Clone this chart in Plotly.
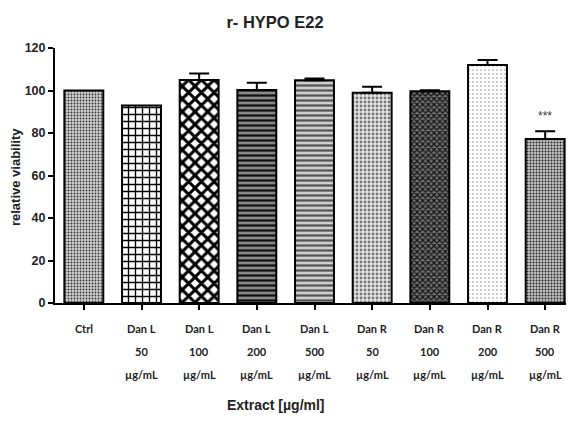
import plotly.graph_objects as go

categories = ["Ctrl", "Dan L 50", "Dan L 100", "Dan L 200", "Dan L 500",
              "Dan R 50", "Dan R 100", "Dan R 200", "Dan R 500"]
label_row1 = ["Ctrl", "Dan L", "Dan L", "Dan L", "Dan L", "Dan R", "Dan R", "Dan R", "Dan R"]
label_row2 = ["", "50", "100", "200", "500", "50", "100", "200", "500"]
label_row3 = ["", "µg/mL", "µg/mL", "µg/mL", "µg/mL", "µg/mL", "µg/mL", "µg/mL", "µg/mL"]
viability = [100, 93, 105, 100.2, 104.8, 99, 99.6, 112, 77.2]
sem = [0, 0, 3, 3.5, 0.8, 2.8, 0.5, 2.4, 3.6]
significance = ["", "", "", "", "", "", "", "", "***"]

pat_shape = [".", "+", "x", "-", "-", ".", "x", ".", "."]
pat_fg = ["#333333", "#000000", "#000000", "#111111", "#555555", "#777777", "#111111", "#bbbbbb", "#2a2a2a"]
pat_bg = ["#d0d0d0", "#ffffff", "#ffffff", "#8a8a8a", "#cfcfcf", "#e4e4e4", "#707070", "#ffffff", "#c0c0c0"]
pat_size = [3, 7, 9, 5, 5, 4, 4, 4, 3]
pat_sol = [0.3, 0.35, 0.55, 0.45, 0.45, 0.4, 0.5, 0.2, 0.35]

fig = go.Figure()
for i, c in enumerate(categories):
    fig.add_trace(go.Bar(
        x=[c], y=[viability[i]], width=0.675,
        marker=dict(
            color=pat_bg[i],
            line=dict(color="black", width=2),
            pattern=dict(shape=pat_shape[i], fgcolor=pat_fg[i], size=pat_size[i],
                         solidity=pat_sol[i], fillmode="overlay", fgopacity=1),
        ),
        error_y=dict(type="data", array=[sem[i]], arrayminus=[0], symmetric=False,
                     color="black", thickness=2, width=10, visible=sem[i] > 0),
        showlegend=False,
    ))

annotations = []
for c, r1, r2, r3 in zip(categories, label_row1, label_row2, label_row3):
    for txt, shift in ((r1, -25), (r2, -48), (r3, -71)):
        if txt:
            annotations.append(dict(x=c, y=0, xref="x", yref="paper", yanchor="middle",
                                    yshift=shift, text=txt, showarrow=False,
                                    font=dict(family="Lato", size=11, color="#222",
                                              weight="bold")))
for c, v, e, s in zip(categories, viability, sem, significance):
    if s:
        annotations.append(dict(x=c, y=v + e + 7, xref="x", yref="y", text=s,
                                showarrow=False, font=dict(family="Arial", size=12, color="#333")))

annotations.append(dict(x=0.426, y=0, xref="paper", yref="paper", yanchor="middle", yshift=-102,
                        text="<b>Extract [µg/ml]</b>", showarrow=False,
                        font=dict(family="Liberation Sans", size=14, color="#222")))
annotations.append(dict(x=-0.077, y=0.494, xref="paper", yref="paper", xanchor="center",
                        yanchor="middle", textangle=-90, text="<b>relative viability</b>",
                        showarrow=False,
                        font=dict(family="Liberation Sans", size=13, color="#222")))

fig.update_layout(
    width=566, height=419,
    margin=dict(l=47, r=0, t=40, b=124),
    paper_bgcolor="white", plot_bgcolor="white",
    barmode="overlay",
    title=dict(text="<b>r- HYPO E22</b>", x=(275 - 8) / 566, xanchor="center",
               y=1 - 14 / 419, yanchor="middle",
               font=dict(family="Liberation Sans", size=16.5, color="#222")),
    xaxis=dict(range=[-0.5, 8.5], categoryorder="array", categoryarray=categories,
               showline=True, linecolor="black", linewidth=2,
               ticks="outside", ticklen=5, tickwidth=1.5, tickcolor="black",
               showticklabels=False, showgrid=False, zeroline=False),
    yaxis=dict(range=[0, 120], tickvals=[0, 20, 40, 60, 80, 100, 120],
               showline=True, linecolor="black", linewidth=2,
               ticks="outside", ticklen=5, tickwidth=1.5, tickcolor="black",
               tickfont=dict(family="Liberation Sans", size=12.5, color="#222", weight="bold"),
               showgrid=False, zeroline=False),
    annotations=annotations,
)

fig.write_html("out.html")
